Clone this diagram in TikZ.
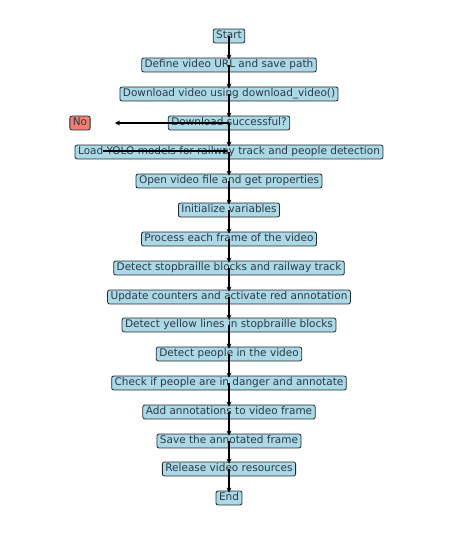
\documentclass[tikz,border=0pt]{standalone}
\usepackage{fontspec}
\setmainfont{DejaVu Sans}
\usetikzlibrary{arrows.meta}

\definecolor{boxblue}{HTML}{ADD8E6}
\definecolor{boxred}{HTML}{F07F70}
\definecolor{inktext}{HTML}{283C46}
\definecolor{inkline}{HTML}{1C2A30}

\begin{document}
\begin{tikzpicture}[
  x = 1pt, y = -1pt,
  procbox/.style = {draw = inkline, fill = boxblue, rounded corners = 2pt,
                    line width = 0.8pt, text = inktext,
                    font = \fontsize{10.5}{12}\selectfont,
                    inner xsep = 3pt, inner ysep = 2pt,
                    text height = 7.6pt, text depth = 2.3pt},
  nobox/.style = {procbox, fill = boxred},
  flow/.style = {-{Stealth[length = 5pt, width = 5pt]}, line width = 1.2pt, black},
  ]
  \useasboundingbox (0,0) rectangle (465,540);

  \node[procbox] (start)   at (229,36)  {Start};
  \node[procbox] (define)  at (229,65)  {Define video URL and save path};
  \node[procbox] (down)    at (229,94)  {Download video using download\_video()};
  \node[procbox] (success) at (229,123) {Download successful?};
  \node[nobox]   (no)      at (80,123)  {No};
  \node[procbox] (load)    at (229,152) {Load YOLO models for railway track and people detection};
  \node[procbox] (open)    at (229,181) {Open video file and get properties};
  \node[procbox] (init)    at (229,210) {Initialize variables};
  \node[procbox] (frame)   at (229,239) {Process each frame of the video};
  \node[procbox] (blocks)  at (229,268) {Detect stopbraille blocks and railway track};
  \node[procbox] (update)  at (229,297) {Update counters and activate red annotation};
  \node[procbox] (yellow)  at (229,325) {Detect yellow lines in stopbraille blocks};
  \node[procbox] (people)  at (229,354) {Detect people in the video};
  \node[procbox] (danger)  at (229,383) {Check if people are in danger and annotate};
  \node[procbox] (annot)   at (229,412) {Add annotations to video frame};
  \node[procbox] (save)    at (229,441) {Save the annotated frame};
  \node[procbox] (release) at (229,469) {Release video resources};
  \node[procbox] (end)     at (229,498) {End};

  \coordinate (nostop)  at (115,123);
  \coordinate (yesfrom) at (103,151);

  % main flow
  \draw[flow] (start.center)   -- ([yshift=-2pt]define.north);
  \draw[flow] (define.center)  -- ([yshift=-2pt]down.north);
  \draw[flow] (down.center)    -- ([yshift=-2pt]success.north);
  \draw[flow] (success.center) -- ([yshift=-2pt]load.north);
  \draw[flow] (load.center)    -- ([yshift=-2pt]open.north);
  \draw[flow] (open.center)    -- ([yshift=-2pt]init.north);
  \draw[flow] (init.center)    -- ([yshift=-2pt]frame.north);
  \draw[flow] (frame.center)   -- ([yshift=-2pt]blocks.north);
  \draw[flow] (blocks.center)  -- ([yshift=-2pt]update.north);
  \draw[flow] (update.center)  -- ([yshift=-2pt]yellow.north);
  \draw[flow] (yellow.center)  -- ([yshift=-2pt]people.north);
  \draw[flow] (people.center)  -- ([yshift=-2pt]danger.north);
  \draw[flow] (danger.center)  -- ([yshift=-2pt]annot.north);
  \draw[flow] (annot.center)   -- ([yshift=-2pt]save.north);
  \draw[flow] (save.center)    -- ([yshift=-2pt]release.north);
  \draw[flow] (release.center) -- ([yshift=-2pt]end.north);

  % branches
  \draw[flow] (success.center) -- (nostop);
  \draw[flow] (yesfrom) -- ([xshift=-1pt]load.center |- yesfrom);
\end{tikzpicture}
\end{document}
